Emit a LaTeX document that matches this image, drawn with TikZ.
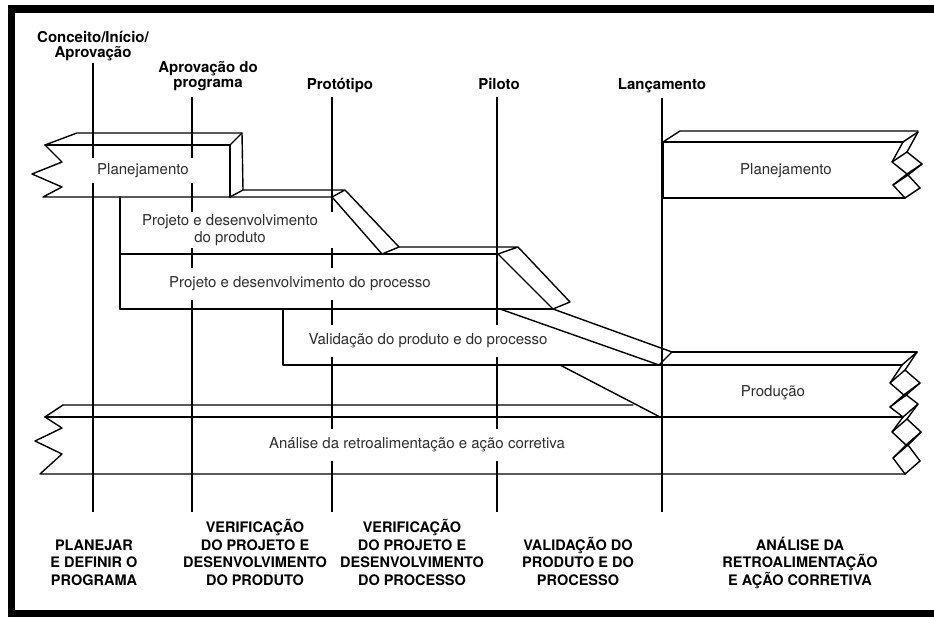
\documentclass[tikz,border=0pt]{standalone}
\usepackage{fontspec}
\setmainfont{TeX Gyre Heros}
\usepackage{tikz}
\usetikzlibrary{positioning}
\definecolor{ink}{RGB}{45,45,45}
\tikzset{
    barline/.style={line width=1.4pt, line join=round, line cap=round},
    gate/.style={line width=1.3pt},
    gatelabel/.style={font=\fontsize{15}{15.5}\selectfont\bfseries, align=center, inner sep=0pt},
    phaselabel/.style={font=\fontsize{14.5}{17.5}\selectfont\bfseries, align=center, inner sep=0pt},
    bartext/.style={font=\fontsize{15}{17}\selectfont, text=ink, fill=white, align=center, inner xsep=6pt, inner ysep=0pt, minimum height=32pt},
    frame/.style={fill=black}
}

\begin{document}
\begin{tikzpicture}[x=1pt, y=-1pt]
\useasboundingbox (0,0) rectangle (934,617);
% moldura
\fill[frame] (8,5) rectangle (934,13);
\fill[frame] (8,5) rectangle (15,617);
\fill[frame] (8,610) rectangle (934,617);

% marcos do programa
\node[gatelabel, anchor=base] (conceito) at (93,58) {Conceito/Início/\\Aprovação};
\node[gatelabel, anchor=base] (aprovacao) at (208,88) {Aprovação do\\programa};
\node[gatelabel, anchor=base] (prototipo) at (340,90) {Protótipo};
\node[gatelabel, anchor=base] (piloto) at (499,90) {Piloto};
\node[gatelabel, anchor=base] (lancamento) at (662,90) {Lançamento};

\foreach \x/\t [count=\i] in {93/63, 192/97, 332/97, 497/97, 662/98} {
    \coordinate (top\i) at (\x,\t);
    \coordinate (foot\i) at (\x,512);
    \draw[gate] (top\i) -- (foot\i);
}

% textos das barras
\node[bartext, minimum height=25pt] (planL) at (143,171) {Planejamento};
\node[bartext, minimum height=36pt, inner xsep=17pt] (prodDev) at (230,230) {Projeto e desenvolvimento\\do produto};
\node[bartext] (procDev) at (300,284) {Projeto e desenvolvimento do processo};
\node[bartext] (valid) at (428,341) {Validação do produto e do processo};
\node[bartext] (producao) at (773,393) {Produção};
\node[bartext] (analise) at (417,445) {Análise da retroalimentação e ação corretiva};
\node[bartext] (planR) at (786,171) {Planejamento};

% Planejamento (esquerda)
\draw[barline] (45,145) -- (62,162) -- (32,174) -- (62,187) -- (43,197) -- (332,197);
\draw[barline] (45,145) -- (230,145) -- (230,197);
\draw[barline] (45,145) -- (77,133) -- (242,133) -- (243,190) -- (230,197);
\draw[barline] (230,145) -- (242,133);

% Projeto e desenvolvimento do produto
\draw[barline] (243,190) -- (345,190) -- (399,247) -- (382,254) -- (332,197) -- (345,190);
\draw[barline] (120,197) -- (120,309);
\draw[barline] (120,254) -- (498,254);

% Projeto e desenvolvimento do processo
\draw[barline] (399,247) -- (518,247) -- (570,302) -- (553,309) -- (498,254) -- (518,247);
\draw[barline] (120,309) -- (553,309);

% Validacao
\draw[barline] (283,309) -- (283,365) -- (902,365);
\draw[barline] (500,309) -- (659,365);
\draw[barline] (553,309) -- (672,352) -- (659,365);

% Producao
\draw[barline] (672,352) -- (917,352);
\draw[barline] (560,365) -- (660,417);

% Analise
\draw[barline] (45,417) -- (62,428) -- (35,441) -- (62,454) -- (40,474) -- (905,474);
\draw[barline] (45,417) -- (63,405) -- (633,405);
\draw[barline] (45,417) -- (903,417);

% extremidades rasgadas
\draw[barline] (903,142) -- (892,162) -- (907,174) -- (893,185) -- (905,198);
\draw[barline, shift={(15,-10)}] (903,142) -- (892,162) -- (907,174) -- (893,185) -- (905,198);
\foreach \p in {(903,142),(892,162),(907,174),(893,185),(905,198)}
    \draw[barline] \p -- ++(15,-10);

\draw[barline] (902,365) -- (890,383) -- (905,396) -- (890,407) -- (903,417) -- (892,432) -- (906,445) -- (893,458) -- (905,474);
\draw[barline, shift={(15,-13)}] (902,365) -- (890,383) -- (905,396) -- (890,407) -- (903,417) -- (892,432) -- (906,445) -- (893,458) -- (905,474);
\foreach \p in {(902,365),(890,383),(905,396),(890,407),(903,417),(892,432),(906,445),(893,458),(905,474)}
    \draw[barline] \p -- ++(15,-13);

% Planejamento (direita)
\draw[barline] (663,142) -- (663,198) -- (905,198);
\draw[barline] (663,142) -- (903,142);
\draw[barline] (663,142) -- (680,131) -- (918,131);

% fases
\node[phaselabel, anchor=base] (fase1) at (94,585) {PLANEJAR\\E DEFINIR O\\PROGRAMA};
\node[phaselabel, anchor=base] (fase2) at (255,585) {VERIFICAÇÃO\\DO PROJETO E\\DESENVOLVIMENTO\\DO PRODUTO};
\node[phaselabel, anchor=base] (fase3) at (412,585) {VERIFICAÇÃO\\DO PROJETO E\\DESENVOLVIMENTO\\DO PROCESSO};
\node[phaselabel, anchor=base] (fase4) at (578,585) {VALIDAÇÃO DO\\PRODUTO E DO\\PROCESSO};
\node[phaselabel, anchor=base] (fase5) at (800,585) {ANÁLISE DA\\RETROALIMENTAÇÃO\\E AÇÃO CORRETIVA};
\end{tikzpicture}
\end{document}
